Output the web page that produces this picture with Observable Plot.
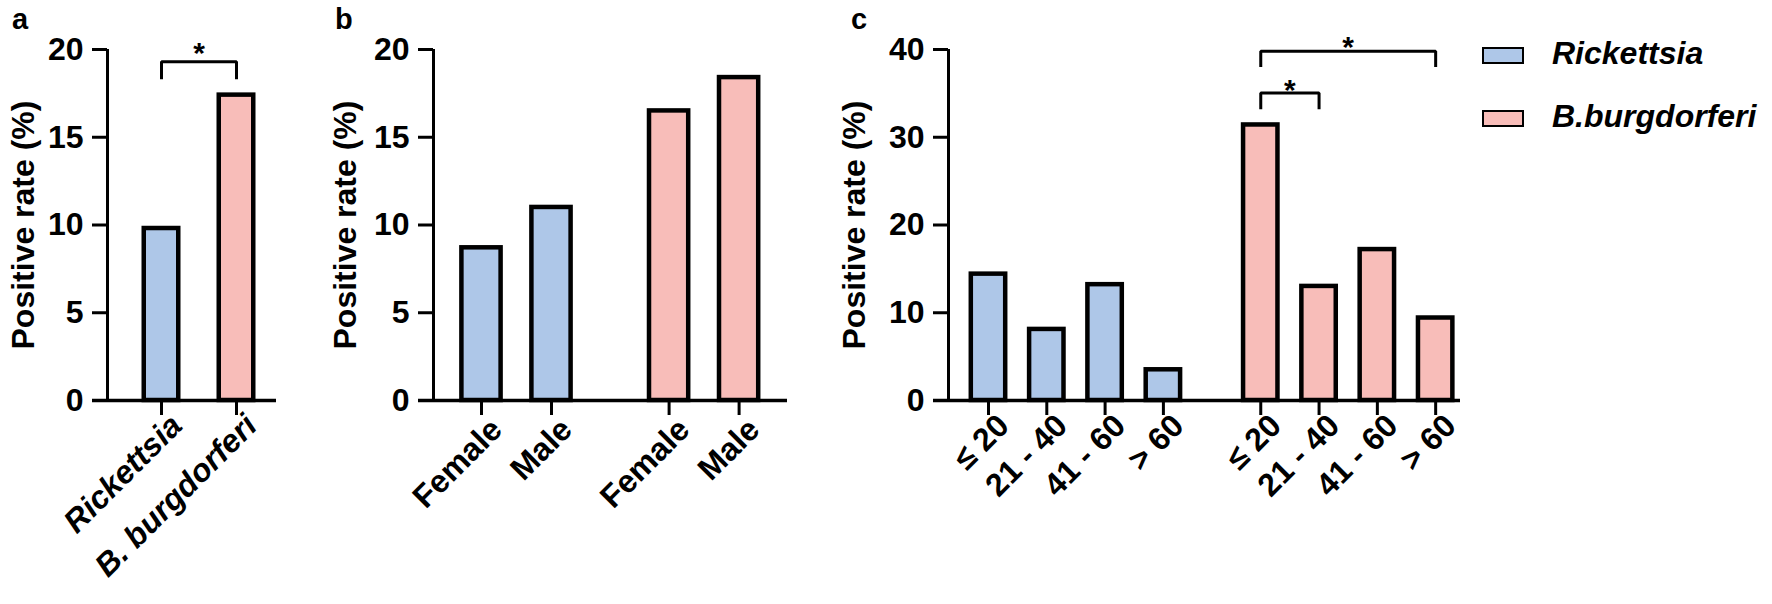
<!DOCTYPE html>
<html>
<head>
<meta charset="utf-8">
<script src="https://cdn.jsdelivr.net/npm/d3@7"></script>
<script src="https://cdn.jsdelivr.net/npm/@observablehq/plot@0.6"></script>
<style>
  body { margin: 0; background: #fff; }
  #wrap { position: relative; width: 1772px; height: 604px; overflow: hidden; font-family: "Liberation Sans", Arial, sans-serif; }
  #wrap svg { position: absolute; left: 0; top: 0; }
  .letter { position: absolute; font-weight: bold; font-size: 29px; line-height: 1; }
  .sw { position: absolute; width: 42px; height: 17px; box-sizing: border-box; border: 2px solid #000; }
  .lt { position: absolute; font-weight: bold; font-style: italic; font-size: 32px; line-height: 1; white-space: nowrap; }
</style>
</head>
<body>
<div id="wrap"></div>
<script>
// ---------- data ----------
const groups = ["Rickettsia", "B.burgdorferi"];
const groupColors = ["#aec7e8", "#f8bdb9"];

const panelALabels = ["Rickettsia", "B. burgdorferi"];
const panelAValues = [9.8, 17.4];

const sexLabels = ["Female", "Male"];
const panelBRickettsia = [8.7, 11.0];
const panelBBurgdorferi = [16.5, 18.4];

const ageLabels = ["\u2264 20", "21 - 40", "41 - 60", "> 60"];
const panelCRickettsia = [14.4, 8.1, 13.2, 3.5];
const panelCBurgdorferi = [31.4, 13.0, 17.2, 9.4];

const yTicksAB = [0, 5, 10, 15, 20];
const yTicksC = [0, 10, 20, 30, 40];

// significance brackets: bar indices, bracket level, foot level, star level
const bracketsA = [{from: 0, to: 1, level: 19.3, foot: 18.3, star: 20.25}];
const bracketsC = [
  {from: 4, to: 5, level: 35.05, foot: 33.2, star: 36.3},
  {from: 4, to: 7, level: 39.8, foot: 38.0, star: 41.1}
];

// ---------- build tables ----------
const dataA = panelALabels.map((label, i) => ({pos: i, label, group: groups[i], value: panelAValues[i]}));

function grouped(labels, seriesList, gap) {
  const out = [];
  seriesList.forEach((vals, g) => {
    labels.forEach((label, i) => {
      out.push({pos: i + g * (labels.length + gap), label, group: groups[g], value: vals[i]});
    });
  });
  return out;
}
const dataB = grouped(sexLabels, [panelBRickettsia, panelBBurgdorferi], 0.68);
const dataC = grouped(ageLabels, [panelCRickettsia, panelCBurgdorferi], 0.67);

const W = 1772, H = 604;
const FONT = "'Liberation Sans', Arial, sans-serif";

function makePanel(cfg) {
  const {data, step, firstCenter, frameLeft, frameRight, yMax, yTicks, barFrac, italic, labelOffset, labelPad, brackets} = cfg;
  const x0 = (frameLeft - firstCenter) / step;
  const x1 = (frameRight - firstCenter) / step;
  const hw = barFrac / 2;
  const tickPos = data.map(d => d.pos);
  const labelOf = new Map(data.map(d => [d.pos, d.label]));
  const marks = [
    Plot.rectY(data, {
      x1: d => d.pos - hw, x2: d => d.pos + hw, y1: 0, y2: "value",
      fill: "group", stroke: "black", strokeWidth: 4.5
    }),
    Plot.ruleX([x0], {stroke: "black", strokeWidth: 3}),
    Plot.ruleY([0], {stroke: "black", strokeWidth: 3.3, insetLeft: -15}),
    Plot.axisY({
      ticks: yTicks, tickSize: 15, tickPadding: 9, strokeWidth: 3,
      fontSize: 32, fontWeight: "bold", tickFormat: d => String(d),
      label: "Positive rate (%)", labelAnchor: "center", labelOffset, labelArrow: "none"
    }),
    Plot.axisX({ticks: tickPos, tickSize: 15, strokeWidth: 3, tickFormat: () => "", label: null}),
    Plot.axisX({
      ticks: tickPos, tickSize: 0, tickPadding: labelPad, tickRotate: -45, dx: 15,
      tickFormat: d => labelOf.get(d), fontSize: 32, fontWeight: "bold",
      fontStyle: italic ? "italic" : "normal", label: null
    })
  ];
  if (brackets) {
    const pts = [];
    brackets.forEach((b, k) => {
      const a = data[b.from].pos, c = data[b.to].pos;
      pts.push({id: k, x: a, y: b.foot}, {id: k, x: a, y: b.level}, {id: k, x: c, y: b.level}, {id: k, x: c, y: b.foot});
    });
    marks.push(Plot.line(pts, {x: "x", y: "y", z: "id", stroke: "black", strokeWidth: 3, strokeLinejoin: "miter", strokeLinecap: "butt"}));
    marks.push(Plot.text(brackets, {
      x: b => (data[b.from].pos + data[b.to].pos) / 2, y: "star", text: () => "*",
      fontSize: 30, fontWeight: "bold", dy: 8, fill: "black"
    }));
  }
  return Plot.plot({
    width: W, height: H,
    marginLeft: frameLeft, marginRight: W - frameRight, marginTop: 49, marginBottom: H - 400,
    x: {type: "linear", domain: [x0, x1]},
    y: {domain: [0, yMax]},
    color: {domain: groups, range: groupColors},
    style: {background: "transparent", fontFamily: FONT, overflow: "visible", color: "black"},
    marks
  });
}

const wrap = document.getElementById("wrap");
wrap.append(makePanel({data: dataA, step: 75, firstCenter: 161, frameLeft: 107, frameRight: 276, yMax: 20, yTicks: yTicksAB, barFrac: 0.46, italic: true, labelOffset: 96, labelPad: 20, brackets: bracketsA}));
wrap.append(makePanel({data: dataB, step: 70, firstCenter: 481, frameLeft: 433, frameRight: 787, yMax: 20, yTicks: yTicksAB, barFrac: 0.56, italic: false, labelOffset: 100, labelPad: 24}));
wrap.append(makePanel({data: dataC, step: 58.3, firstCenter: 988, frameLeft: 948, frameRight: 1460, yMax: 40, yTicks: yTicksC, barFrac: 0.59, italic: false, labelOffset: 106, labelPad: 20, brackets: bracketsC}));

// panel letters
[["a", 12], ["b", 335], ["c", 851]].forEach(([t, x]) => {
  const d = document.createElement("div");
  d.className = "letter"; d.textContent = t;
  d.style.left = x + "px"; d.style.top = (30 - 0.8465 * 29) + "px";
  wrap.append(d);
});

// legend
const legendTop = [47, 110];
groups.forEach((g, i) => {
  const s = document.createElement("div");
  s.className = "sw"; s.style.left = "1482px"; s.style.top = legendTop[i] + "px"; s.style.background = groupColors[i];
  wrap.append(s);
  const t = document.createElement("div");
  t.className = "lt"; t.textContent = g;
  t.style.left = "1552px"; t.style.top = (legendTop[i] + 17 - 0.8465 * 32) + "px";
  wrap.append(t);
});
</script>
</body>
</html>
